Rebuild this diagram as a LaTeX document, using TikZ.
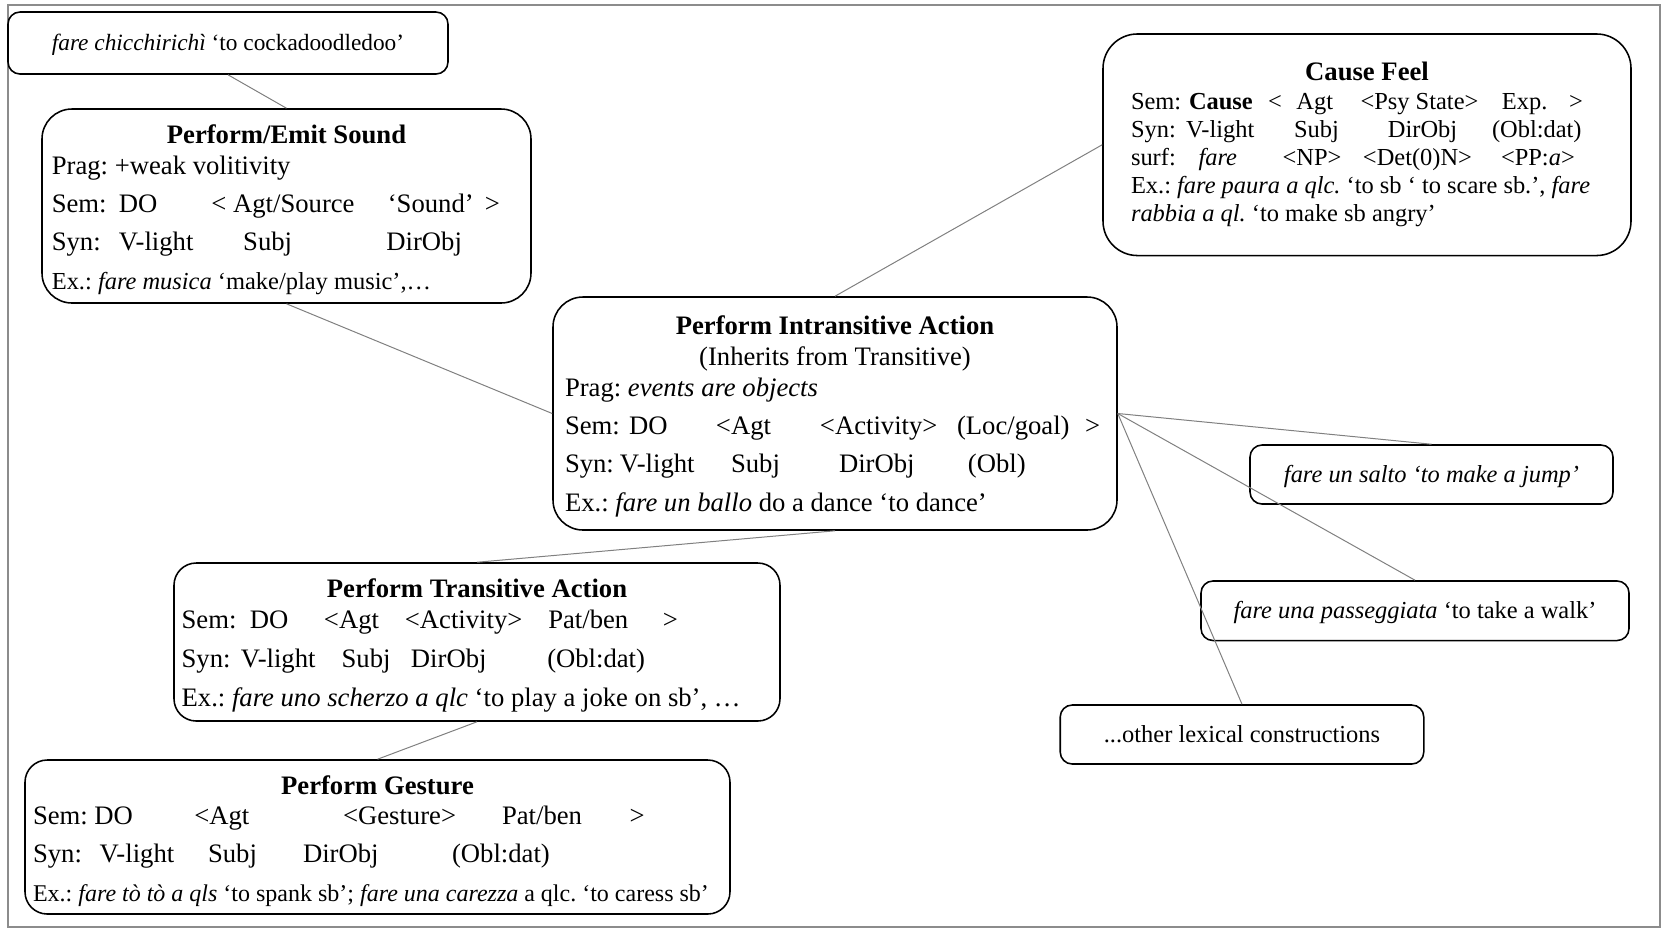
\documentclass[tikz,border=0pt]{standalone}
\usepackage{fontspec}
\setmainfont{Liberation Serif}
\usetikzlibrary{positioning}
\newlength\px \setlength\px{0.45pt}
\newcommand\tabat[2]{\rlap{\hspace*{#1\px}#2}}
\newcommand\fsmain{\fontsize{12}{13.8}\selectfont}
\newcommand\fssmall{\fontsize{11}{12.6}\selectfont}
\frenchspacing

\begin{document}
\begin{tikzpicture}[x=0.45pt,y=-0.45pt,
  cxn/.style={draw,rounded corners=13.5pt,inner sep=0pt,line width=.7pt},
  lex/.style={draw,rounded corners=5.4pt,inner sep=0pt,line width=.7pt,font=\fssmall,text height=9.4pt,text depth=2.5pt},
  inh/.style={draw=black!50,line width=.45pt}]
\useasboundingbox (0,0) rectangle (1663,929);
\draw[black!45,line width=.6pt] (8,5) rectangle (1660,927);

\node[lex,minimum width=198pt,minimum height=27.9pt,font=\fontsize{10.5}{12}\selectfont] (chicc) at (228,43){\textit{fare chicchirichì} ‘to cockadoodledoo’};

\node[cxn,minimum width=220.05pt,minimum height=87.3pt] (emit) at (286.5,206){\begin{minipage}{211.2pt}\fsmain\vspace*{3.4pt}
\makebox[\linewidth]{\bfseries Perform/Emit Sound}\\
\tabat{0}{Prag: +weak volitivity}\\[3.4pt]
\tabat{0}{Sem:}\tabat{67}{DO}\tabat{159.6}{< Agt/Source}\tabat{336}{‘Sound’}\tabat{433}{>}\\[3.4pt]
\tabat{0}{Syn:}\tabat{67}{V-light}\tabat{191.4}{Subj}\tabat{334.6}{DirObj}\\[3.4pt]
\tabat{0}{\fssmall Ex.: \textit{fare musica} ‘make/play music’,…}
\end{minipage}};

\node[cxn,minimum width=253.8pt,minimum height=104.85pt] (intrans) at (835,413.5){\begin{minipage}{243pt}\fsmain\vspace*{3pt}
\makebox[\linewidth]{\bfseries Perform Intransitive Action}\\
\makebox[\linewidth]{(Inherits from Transitive)}\\
\tabat{0}{Prag: \textit{events are objects}}\\[3.4pt]
\tabat{0}{Sem:}\tabat{64}{DO}\tabat{151}{<Agt}\tabat{255}{<Activity>}\tabat{392}{(Loc/goal)}\tabat{520}{>}\\[3.4pt]
\tabat{0}{Syn:}\tabat{55}{V-light}\tabat{166}{Subj}\tabat{274}{DirObj}\tabat{403}{(Obl)}\\[3.9pt]
\tabat{0}{Ex.: \textit{fare un ballo} do a dance ‘to dance’}
\end{minipage}};

\node[cxn,rounded corners=15.5pt,minimum width=237.6pt,minimum height=99.7pt] (cause) at (1367,144.75){\begin{minipage}{212.4pt}\fssmall
\makebox[\linewidth]{\fsmain\bfseries Cause Feel}\\[.4pt]
\tabat{0}{Sem:}\tabat{58}{\textbf{Cause}}\tabat{137}{<}\tabat{165.5}{Agt}\tabat{229.5}{<Psy State>}\tabat{371}{Exp.}\tabat{438}{>}\\
\tabat{0}{Syn:}\tabat{55}{V-light}\tabat{163}{Subj}\tabat{257}{DirObj}\tabat{361}{(Obl:dat)}\\
\tabat{0}{surf:}\tabat{67.5}{\textit{fare}}\tabat{151.6}{<NP>}\tabat{232}{<Det(0)N>}\tabat{370}{<PP:\textit{a}>}\\
\tabat{0}{Ex.: \textit{fare paura a qlc.} ‘to sb ‘ to scare sb.’, \textit{fare}}\\
\tabat{0}{\textit{rabbia a ql.} ‘to make sb angry’}
\end{minipage}};

\node[cxn,rounded corners=10pt,minimum width=272.7pt,minimum height=71.1pt] (trans) at (477,642){\begin{minipage}{265.8pt}\fsmain\vspace*{3pt}
\makebox[\linewidth]{\bfseries Perform Transitive Action}\\[.5pt]
\tabat{0}{Sem:}\tabat{68.3}{DO}\tabat{142.3}{<Agt}\tabat{223.3}{<Activity>}\tabat{366.6}{Pat/ben}\tabat{481.3}{>}\\[3.4pt]
\tabat{0}{Syn:}\tabat{59.3}{V-light}\tabat{160}{Subj}\tabat{229.3}{DirObj}\tabat{365.6}{(Obl:dat)}\\[3.9pt]
\tabat{0}{Ex.: \textit{fare uno scherzo a qlc} ‘to play a joke on sb’, …}
\end{minipage}};

\node[cxn,rounded corners=10pt,minimum width=317.25pt,minimum height=69.3pt] (gesture) at (377.5,837){\begin{minipage}{310pt}\fsmain\vspace*{3.4pt}
\makebox[\linewidth]{\bfseries Perform Gesture}\\
\tabat{0}{Sem:}\tabat{61.3}{DO}\tabat{161.3}{<Agt}\tabat{310}{<Gesture>}\tabat{469}{Pat/ben}\tabat{596.6}{>}\\[3.4pt]
\tabat{0}{Syn:}\tabat{66.6}{V-light}\tabat{175}{Subj}\tabat{270}{DirObj}\tabat{419}{(Obl:dat)}\\[3.4pt]
\tabat{0}{\fontsize{10.8}{12.6}\selectfont Ex.: \textit{fare tò tò a qls} ‘to spank sb’; \textit{fare una carezza} a qlc. ‘to caress sb’}
\end{minipage}};

\node[lex,minimum width=163.35pt,minimum height=26.55pt] (salto) at (1431.5,474.5){\textit{fare un salto ‘to make a jump’}};
\node[lex,minimum width=192.6pt,minimum height=26.8pt] (walk) at (1415,610.75){\textit{fare una passeggiata} ‘to take a walk’};
\node[lex,minimum width=163.6pt,minimum height=26.55pt] (other) at (1242,734.5){...other lexical constructions};

\draw[inh] (chicc.south) -- (emit.north);
\draw[inh] (emit.south) -- (intrans.west);
\draw[inh] (intrans.north) -- (cause.west);
\draw[inh] (intrans.south) -- (trans.north);
\draw[inh] (trans.south) -- (gesture.north);
\foreach \n in {salto,walk,other}{\draw[inh] (intrans.east) -- (\n.north);}
\end{tikzpicture}
\end{document}
